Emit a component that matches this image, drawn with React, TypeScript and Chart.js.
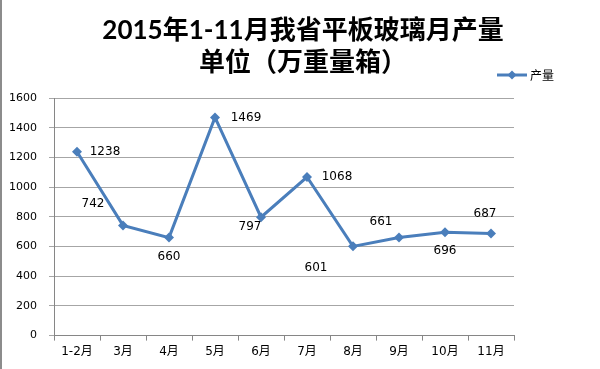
import { useEffect, useRef } from "react";
import { Chart, registerables } from "chart.js";

Chart.register(...registerables);

const categories = ["1-2月", "3月", "4月", "5月", "6月", "7月", "8月", "9月", "10月", "11月"];
const output = [1238, 742, 660, 1469, 797, 1068, 601, 661, 696, 687];
const seriesName = "产量";
const titleLines = ["2015年1-11月我省平板玻璃月产量", "单位（万重量箱）"];
const yMin = 0;
const yMax = 1600;
const yStep = 200;

// label placement offsets (style), relative to each point
const labelOffsets: [number, number][] = [
  [28, 0], [-30, -22], [0, 19], [31, 0], [-11, 10],
  [30, 0], [-37, 22], [-18, -16], [0, 19], [-6, -20],
];

const LINE_COLOR = "#4a7ebb";
const AXIS_FONT = "'DejaVu Sans', 'Noto Sans CJK SC', sans-serif";
const TITLE_FONT = "Lato, 'Noto Sans CJK SC', sans-serif";

function drawDiamond(ctx: CanvasRenderingContext2D, x: number, y: number, r: number) {
  ctx.beginPath();
  ctx.moveTo(x - r, y);
  ctx.lineTo(x, y - r);
  ctx.lineTo(x + r, y);
  ctx.lineTo(x, y + r);
  ctx.closePath();
  ctx.fill();
}

const decorPlugin = {
  id: "decor",
  beforeDraw(chart: any) {
    const { ctx, width, height } = chart;
    ctx.save();
    ctx.fillStyle = "#ffffff";
    ctx.fillRect(0, 0, width, height);
    ctx.strokeStyle = "#8c8c8c";
    ctx.lineWidth = 2;
    ctx.beginPath();
    ctx.moveTo(1, 0);
    ctx.lineTo(1, height);
    ctx.stroke();
    // titles
    ctx.fillStyle = "#000";
    ctx.textAlign = "center";
    ctx.textBaseline = "middle";
    ctx.font = `bold 26px ${TITLE_FONT}`;
    ctx.fillText(titleLines[0], width / 2 + 3, 31);
    ctx.fillText(titleLines[1], width / 2 + 3, 63);
    ctx.restore();
  },
  afterDatasetsDraw(chart: any) {
    const { ctx } = chart;
    const meta = chart.getDatasetMeta(0);
    const data = chart.data.datasets[0].data as number[];
    ctx.save();
    ctx.fillStyle = "#000";
    ctx.font = "12px 'DejaVu Sans', sans-serif";
    ctx.textAlign = "center";
    ctx.textBaseline = "middle";
    meta.data.forEach((el: any, i: number) => {
      const [dx, dy] = labelOffsets[i] || [0, -15];
      ctx.fillText(String(data[i]), el.x + dx, el.y + dy);
    });
    ctx.restore();
  },
  afterDraw(chart: any) {
    const { ctx, chartArea } = chart;
    const lx = chartArea.right - 17;
    const ly = chartArea.top - 23;
    ctx.save();
    ctx.strokeStyle = LINE_COLOR;
    ctx.fillStyle = LINE_COLOR;
    ctx.lineWidth = 3;
    ctx.beginPath();
    ctx.moveTo(lx, ly);
    ctx.lineTo(lx + 30, ly);
    ctx.stroke();
    drawDiamond(ctx, lx + 15, ly, 4.5);
    ctx.fillStyle = "#000";
    ctx.font = "12px 'Noto Sans CJK SC', sans-serif";
    ctx.textAlign = "left";
    ctx.textBaseline = "middle";
    ctx.fillText(chart.data.datasets[0].label, lx + 33, ly);
    ctx.restore();
  },
};

export default function App() {
  const ref = useRef<HTMLCanvasElement | null>(null);
  useEffect(() => {
    if (!ref.current) return;
    const chart = new Chart(ref.current, {
      type: "line",
      data: {
        labels: categories,
        datasets: [
          {
            label: seriesName,
            data: output,
            borderColor: LINE_COLOR,
            backgroundColor: LINE_COLOR,
            borderWidth: 3,
            tension: 0,
            pointStyle: "rectRot",
            pointRadius: 5,
            pointBorderWidth: 0,
            pointBackgroundColor: LINE_COLOR,
          },
        ],
      },
      options: {
        responsive: false,
        animation: false,
        layout: { padding: { left: 10, right: 86, top: 98, bottom: 6 } },
        plugins: {
          legend: { display: false },
          tooltip: { enabled: false },
          title: { display: false },
        },
        scales: {
          x: {
            offset: true,
            grid: { offset: true, drawOnChartArea: false, tickLength: 5, color: "#868686" },
            border: { color: "#868686" },
            ticks: { color: "#000", font: { family: AXIS_FONT, size: 12 }, padding: 4, maxRotation: 0, autoSkip: false },
          },
          y: {
            min: yMin,
            max: yMax,
            afterFit: (scale: any) => {
              scale.width = 44;
            },
            grid: { color: "#a6a6a6", tickLength: 5 },
            border: { color: "#868686" },
            ticks: {
              stepSize: yStep,
              color: "#000",
              font: { family: "'DejaVu Sans', sans-serif", size: 11 },
              padding: 12,
              callback: (v: any) => String(v),
            },
          },
        },
      },
      plugins: [decorPlugin],
    });
    return () => chart.destroy();
  }, []);
  return (
    <div style={{ position: "absolute", left: 0, top: 0, width: 600, height: 369 }}>
      <canvas ref={ref} width={600} height={369} style={{ display: "block" }} />
    </div>
  );
}
